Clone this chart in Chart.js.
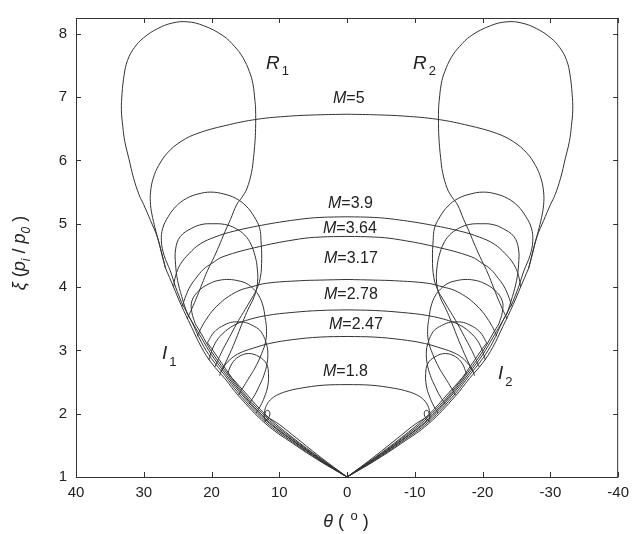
<!DOCTYPE html>
<html lang="en">
<head>
<meta charset="UTF-8">
<title>Shock polars</title>
<script src="https://cdn.jsdelivr.net/npm/chart.js"></script>
<style>
  body { margin: 0; background: #fff; }
  #wrap { width: 636px; height: 534px; }
</style>
</head>
<body>
<div id="wrap"><canvas id="polars" width="636" height="534"></canvas></div>
<script>
// Mach numbers of the polar families, outermost first
const machNumbers = ['5', '3.9', '3.64', '3.17', '2.78', '2.47', '1.8'];

// axis ticks
const thetaTicks = [40, 30, 20, 10, 0, -10, -20, -30, -40];
const xiTicks = [1, 2, 3, 4, 5, 6, 7, 8];

// Left-hand branches as [theta, xi]. The right-hand branches are the mirror image.

// incident polars I, from the origin to the foot of the reflected polar
const incM5   = [[0,1],[4,1.25],[8,1.53],[12,1.84],[16,2.28],[18,2.55],[20,2.80],[21.5,3.05],[23,3.38],[24.5,3.72],[25.6,4.0],[26.8,4.3]];
const incM39  = [[0,1],[4,1.26],[8,1.55],[12,1.87],[16,2.32],[18,2.6],[20,2.87],[21.5,3.13],[23,3.47],[24.4,3.75]];
const incM364 = [[0,1],[4,1.27],[8,1.57],[12,1.9],[16,2.36],[18,2.64],[20,2.93],[21.5,3.2],[22.6,3.4],[23.6,3.58]];
const incM317 = [[0,1],[4,1.28],[8,1.58],[12,1.92],[16,2.39],[18,2.68],[20,2.98],[21.5,3.26],[22.4,3.42]];
const incM278 = [[0,1],[4,1.29],[8,1.6],[12,1.95],[16,2.42],[18,2.72],[19.8,3.0],[20.6,3.12]];
const incM247 = [[0,1],[4,1.3],[8,1.62],[12,1.98],[15,2.33],[16.6,2.52],[17.6,2.64]];
const incM18  = [[0,1],[4,1.32],[8,1.66],[10,1.83],[11.5,1.93]];

// reflected polars R (closed lobes)
const reflM5 = [[26.8,4.3],[27.3,4.5],[28.0,4.79],[29.0,5.05],[30.0,5.3],[30.7,5.46],[31.5,5.72],[32.2,6.03],
  [32.8,6.3],[33.1,6.54],[33.3,6.8],[33.2,7.06],[32.9,7.35],[32.4,7.58],[31.4,7.78],[30.0,7.94],[28.0,8.08],
  [25.8,8.17],[23.6,8.19],[21.2,8.13],[18.3,7.97],[16.6,7.8],[15.4,7.63],[14.4,7.4],[13.9,7.21],[13.6,6.95],
  [13.5,6.81],[13.5,6.5],[13.6,6.28],[13.8,6.05],[14.1,5.81],[14.8,5.55],[15.5,5.42],[16.3,5.30],[17.2,5.07],
  [18.0,4.88],[18.7,4.7],[19.6,4.48],[20.6,4.26],[21.4,4.05],[22.1,3.86],[22.9,3.66],[23.6,3.5]];
const reflM39 = [[24.4,3.75],[25.3,4.0],[26.1,4.26],[27.0,4.5],[27.4,4.73],[27.2,4.93],[26.4,5.11],[25.2,5.28],
  [23.7,5.40],[22.0,5.47],[20.1,5.50],[18.2,5.47],[16.4,5.40],[14.9,5.28],[13.7,5.11],[12.9,4.93],[12.7,4.73],
  [12.6,4.45],[12.8,4.15],[13.4,3.95],[14.3,3.78],[15.3,3.6],[16.3,3.42],[17.3,3.22],[18.3,3.02],[19.0,2.86],
  [19.5,2.74]];
const reflM364 = [[23.6,3.58],[24.4,3.85],[25.0,4.1],[25.3,4.35],[25.3,4.6],[24.6,4.8],[22.9,4.93],[21.4,4.99],
  [19.8,5.0],[18.1,4.99],[16.5,4.93],[15.1,4.82],[14.2,4.68],[13.6,4.5],[13.3,4.34],[13.2,4.08],[13.7,3.85],
  [14.6,3.65],[15.4,3.45],[16.5,3.15],[17.6,2.88],[18.6,2.66]];
const reflM317 = [[22.4,3.42],[22.9,3.6],[22.9,3.78],[21.8,3.95],[20.0,4.07],[18.7,4.11],[17.4,4.12],[16.1,4.1],
  [14.9,4.06],[13.8,3.97],[13.0,3.86],[12.4,3.7],[12.1,3.52],[11.9,3.35],[12.0,3.15],[12.6,2.95],[13.6,2.72],
  [14.4,2.58],[15.2,2.44],[16,2.3]];
const reflM278 = [[20.6,3.12],[19.9,3.25],[19.2,3.33],[18.3,3.39],[17.2,3.44],[16.1,3.45],[15.0,3.44],[13.9,3.39],
  [12.9,3.32],[12.3,3.22],[11.9,3.1],[11.7,2.99],[11.8,2.8],[12.3,2.6],[12.9,2.45],[13.6,2.3],[14.5,2.15]];
const reflM247 = [[17.6,2.64],[17.0,2.79],[16.0,2.9],[14.5,2.95],[13.0,2.9],[11.9,2.79],[11.6,2.63],[11.7,2.44],
  [12.2,2.26],[12.8,2.12],[13.4,2.01]];
const reflM18 = [[11.5,1.93],[11.9,1.96],[12.1,2.0],[11.9,2.05],[11.5,2.04],[11.4,1.98],[11.7,1.92],[12.2,1.87]];

// polars labelled M=..., from the axis of symmetry down to the incident polar
const arcM5   = [[0,6.73],[4.5,6.72],[8.5,6.70],[13.3,6.65],[18,6.55],[22,6.43],[24.5,6.3],[26.5,6.12],[27.8,5.92],
  [28.6,5.72],[29.0,5.5],[29.0,5.3],[28.7,5.1],[28.2,4.88],[27.5,4.6],[26.8,4.3]];
const arcM39  = [[0,5.11],[4,5.1],[7,5.07],[11.9,4.99],[16.8,4.88],[19.5,4.79],[21.7,4.68],[23.3,4.53],[24.6,4.36],
  [25.3,4.18],[25.6,4.0]];
const arcM364 = [[0,4.8],[4,4.79],[7,4.76],[12.9,4.64],[18.3,4.48],[20.0,4.37],[21.2,4.28],[22.3,4.14],[23.1,4.02],
  [23.8,3.86],[24.3,3.7]];
const arcM317 = [[0,4.12],[4,4.11],[7,4.1],[11.9,4.06],[14.2,4.0],[15.8,3.95],[17.5,3.85],[18.7,3.75],[19.9,3.62],
  [20.9,3.47],[21.6,3.34],[22.1,3.22]];
const arcM278 = [[0,3.64],[4,3.63],[8,3.6],[11.9,3.55],[15,3.47],[16.8,3.39],[18.3,3.27],[19.2,3.16],[19.8,3.04],
  [20.2,2.92],[20.4,2.85]];
const arcM247 = [[0,3.22],[4,3.21],[8,3.17],[11.4,3.11],[14,3.03],[15.8,2.96],[17.0,2.88],[18.0,2.77],[18.6,2.66],
  [18.8,2.6]];
const arcM18  = [[0,2.46],[3.5,2.45],[7,2.40],[9,2.35],[10.4,2.29],[11.3,2.22],[11.9,2.13],[12.2,2.02],[12.2,1.94],
  [12.0,1.88]];

const families = [
  { inc: incM5,   refl: reflM5,   arc: arcM5 },
  { inc: incM39,  refl: reflM39,  arc: arcM39 },
  { inc: incM364, refl: reflM364, arc: arcM364 },
  { inc: incM317, refl: reflM317, arc: arcM317 },
  { inc: incM278, refl: reflM278, arc: arcM278 },
  { inc: incM247, refl: reflM247, arc: arcM247 },
  { inc: incM18,  refl: reflM18,  arc: arcM18 }
];

const lineStyle = {
  showLine: true, pointRadius: 0, borderColor: '#333', borderWidth: 1, tension: 0.4, fill: false
};

const datasets = [];
families.forEach(f => {
  [f.inc, f.refl, f.arc].forEach(curve => {
    datasets.push({ ...lineStyle, data: curve.map(([t, v]) => ({ x: t, y: v })) });
    datasets.push({ ...lineStyle, data: curve.map(([t, v]) => ({ x: -t, y: v })) });
  });
});

const FONT = '"Liberation Sans", Arial, sans-serif';

// draws a run of text pieces: [text, size, italic, dy, dx]
function drawRich(ctx, parts, x, y, align) {
  const fontOf = p => (p[2] ? 'italic ' : '') + p[1] + 'px ' + FONT;
  let w = 0;
  parts.forEach(p => { ctx.font = fontOf(p); w += ctx.measureText(p[0]).width + (p[4] || 0); });
  let cx = align === 'center' ? x - w / 2 : x;
  parts.forEach(p => {
    ctx.font = fontOf(p);
    cx += p[4] || 0;
    ctx.fillText(p[0], cx, y + (p[3] || 0));
    cx += ctx.measureText(p[0]).width;
  });
}

// M= label positions (left edge, baseline)
const machLabelPos = [[333,103],[328,208],[323,233],[324,263],[324,299],[329,329],[323,376]];

const polarFrame = {
  id: 'polarFrame',
  afterDatasetsDraw(chart) {
    const { ctx, chartArea: a, scales: { x, y } } = chart;
    ctx.save();
    ctx.strokeStyle = '#333';
    ctx.lineWidth = 1;
    ctx.strokeRect(a.left + 0.5, a.top + 0.5, a.right - a.left - 1, a.bottom - a.top);

    // inward ticks on all four sides
    const tick = 5;
    ctx.beginPath();
    thetaTicks.forEach(v => {
      const px = Math.round(x.getPixelForValue(v)) + 0.5;
      ctx.moveTo(px, a.bottom); ctx.lineTo(px, a.bottom - tick);
      ctx.moveTo(px, a.top); ctx.lineTo(px, a.top + tick);
    });
    xiTicks.forEach(v => {
      const py = Math.round(y.getPixelForValue(v)) + 0.5;
      ctx.moveTo(a.left, py); ctx.lineTo(a.left + tick, py);
      ctx.moveTo(a.right, py); ctx.lineTo(a.right - tick, py);
    });
    ctx.stroke();

    ctx.fillStyle = '#222';
    ctx.textBaseline = 'alphabetic';
    ctx.textAlign = 'left';

    // M= labels
    machNumbers.forEach((m, i) => {
      const [lx, ly] = machLabelPos[i];
      drawRich(ctx, [['M', 16, true], ['=' + m, 16, false]], lx, ly);
    });

    // polar names
    drawRich(ctx, [['R', 19, true], ['1', 13, false, 6, 2]], 266, 69);
    drawRich(ctx, [['R', 19, true], ['2', 13, false, 6, 2]], 413, 69);
    drawRich(ctx, [['I', 19, true], ['1', 13, false, 7, 2]], 162, 359);
    drawRich(ctx, [['I', 19, true], ['2', 13, false, 7, 2]], 498, 379);

    // axis titles
    drawRich(ctx, [['θ', 18, true], [' (', 18, false], ['  ', 12, false], ['o', 13, false, -7],
      [' )', 18, false]], 346, 527, 'center');

    ctx.translate(25, 253);
    ctx.rotate(-Math.PI / 2);
    drawRich(ctx, [['ξ', 18, true], [' (', 18, false], ['p', 18, true], ['i', 12, true, 5],
      [' / ', 18, false], ['p', 18, true], ['0', 12, true, 5], [' )', 18, false]], 0, 0, 'center');
    ctx.restore();
  }
};

new Chart(document.getElementById('polars'), {
  type: 'scatter',
  data: { datasets },
  options: {
    responsive: false,
    animation: false,
    events: [],
    layout: { padding: { top: 11, right: 15, left: 0, bottom: 0 } },
    plugins: { legend: { display: false }, tooltip: { enabled: false } },
    scales: {
      x: {
        type: 'linear', min: -40, max: 40, reverse: true,
        afterBuildTicks: s => { s.ticks = thetaTicks.map(v => ({ value: v })); },
        afterFit: s => { s.height = 57; },
        grid: { display: false, drawTicks: false },
        border: { display: false },
        ticks: { padding: 7, color: '#222', font: { family: FONT, size: 15 }, callback: v => String(v), maxRotation: 0 }
      },
      y: {
        type: 'linear', min: 1, max: 8.25,
        afterBuildTicks: s => { s.ticks = xiTicks.map(v => ({ value: v })); },
        afterFit: s => { s.width = 76; },
        grid: { display: false, drawTicks: false },
        border: { display: false },
        ticks: { padding: 9, color: '#222', font: { family: FONT, size: 15 }, callback: v => String(v) }
      }
    }
  },
  plugins: [polarFrame]
});
</script>
</body>
</html>
